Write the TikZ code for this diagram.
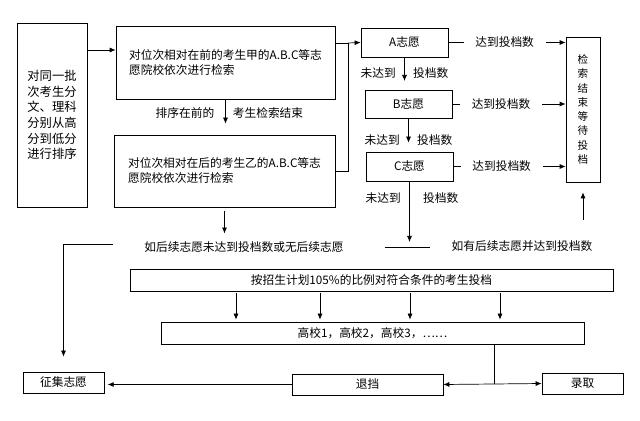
\documentclass[tikz,border=0pt]{standalone}
\usepackage{fontspec}
\setmainfont{Noto Sans CJK SC}
\usetikzlibrary{positioning, calc, arrows.meta}

\begin{document}
\begin{tikzpicture}[
    x=0.3mm, y=-0.3mm,
    >={Latex[length=1.8mm, width=1.5mm]}, % punta rellena y pequeña
    caja/.style={draw, line width=0.6pt, inner sep=0pt, font=\fontsize{10}{12.8}\selectfont},
    texto/.style={font=\fontsize{10}{12}\selectfont, inner sep=1pt},
    etiq/.style={texto, inner xsep=2.5mm},
    corte/.style={texto, fill=white, inner xsep=3.5mm},
    linea/.style={line width=0.6pt},
    flecha/.style={->, line width=0.6pt}
]
    \useasboundingbox (0,0) rectangle (640,421);

    % 1. Ordenación y las dos búsquedas
    \node[caja, minimum width=21mm, minimum height=55.2mm, align=left, font=\fontsize{10.5}{13.4}\selectfont] (orden) at (52,115) {对同一批\\次考生分\\文、理科\\分别从高\\分到低分\\进行排序};
    \node[caja, minimum width=65.7mm, minimum height=21.9mm, align=left] (jia) at (225.5,62.5) {对位次相对在前的考生甲的A.B.C等志\\愿院校依次进行检索};
    \node[caja, minimum width=66.3mm, minimum height=21.6mm, align=left] (yi) at (224.5,171) {对位次相对在后的考生乙的A.B.C等志\\愿院校依次进行检索};
    \coordinate (entrada) at (87,50);
    \draw[flecha] (orden.east |- entrada) -- (jia.west |- entrada);
    \draw[flecha, shorten >=3.3mm] (jia.south) -- (jia.south |- yi.north);
    \node[texto] (antes) at (185,113) {排序在前的};
    \node[texto] (fin) at (268,113) {考生检索结束};

    % 2. Corchete hacia los tres volúmenes
    \coordinate (brk) at (348,43);
    \draw[linea] (jia.east |- brk) -- (brk) -- (brk |- yi.east) -- (yi.east);

    % 3. Volúmenes A, B, C
    \node[caja, minimum width=26.1mm, minimum height=8.7mm] (volA) at (404.5,42.5) {A志愿};
    \node[caja, minimum width=26.1mm, minimum height=8.4mm] (volB) at (408.5,104) {B志愿};
    \node[caja, minimum width=26.1mm, minimum height=8.7mm] (volC) at (409.5,166.5) {C志愿};
    \node[caja, minimum width=10.2mm, minimum height=43.5mm, align=center, font=\fontsize{9}{12.2}\selectfont] (espera) at (583,109.5) {检\\索\\结\\束\\等\\待\\投\\档};
    \draw[flecha] (brk) -- (volA.west);

    \foreach \v/\p in {volA/0.48, volB/0.43, volC/0.43}
        \draw[flecha] (\v.east) -- node[corte, pos=\p] {达到投档数} (\v.east -| espera.west);

    \draw[flecha, shorten >=2.6mm] (volA.south) -- node[etiq, left] {未达到} node[etiq, right] {投档数} (volA.south |- volB.north);
    \draw[flecha, shorten >=2.7mm] (volB.south) -- node[etiq, left, yshift=-1.5mm] {未达到} node[etiq, right, yshift=-1.5mm] {投档数} (volB.south |- volC.north);

    % 4. Unión bajo C
    \coordinate (unionL) at (385,247);
    \coordinate (unionR) at (430,247);
    \draw[linea] (unionL) -- (unionR);
    \draw[flecha, shorten >=1.5mm] (volC.south) -- node[etiq, left, pos=0.25] {未达到} node[etiq, right, pos=0.25, xshift=1.5mm] {投档数} (volC.south |- unionL);
    \node[texto] (conOk) at (522,246) {如有后续志愿并达到投档数};
    \coordinate (subida) at (583,220);
    \draw[flecha, shorten >=3mm] (subida) -- (espera.south);

    \node[texto] (sinOk) at (244,247) {如后续志愿未达到投档数或无后续志愿};
    \draw[flecha, shorten <=1mm, shorten >=2mm] (yi.south) -- (yi.south |- sinOk.north);

    % 5. Envío de expedientes
    \node[caja, minimum width=144.9mm, minimum height=6.6mm] (plan) at (371.5,280) {按招生计划105\%的比例对符合条件的考生投档};
    \node[caja, minimum width=126.9mm, minimum height=6.6mm] (gaoxiao) at (372.5,333) {高校1，高校2，高校3，……};
    \foreach \x in {236,320,410,500}
        \draw[flecha, shorten <=0.6mm, shorten >=0.6mm] (\x,0 |- plan.south) -- (\x,0 |- gaoxiao.north);

    % 6. Resultado final
    \node[caja, minimum width=24.3mm, minimum height=6.3mm] (zhengji) at (63.5,382.5) {征集志愿};
    \node[caja, minimum width=45.3mm, minimum height=6.3mm] (tuidang) at (367.5,384.5) {退挡};
    \node[caja, minimum width=24.3mm, minimum height=6.3mm] (luqu) at (582.5,383.5) {录取};

    \coordinate (reparto) at (494,384);
    \draw[linea] (gaoxiao.south -| reparto) -- (reparto);
    \draw[flecha] (reparto) -- (tuidang.east);
    \draw[flecha] (reparto) -- (luqu.west);
    \draw[flecha, shorten >=1mm] (tuidang.west) -- (tuidang.west -| zhengji.east);

    \coordinate (bajada) at (113,244);
    \draw[flecha, shorten >=4.5mm] (bajada) -| (zhengji.north);

\end{tikzpicture}
\end{document}
